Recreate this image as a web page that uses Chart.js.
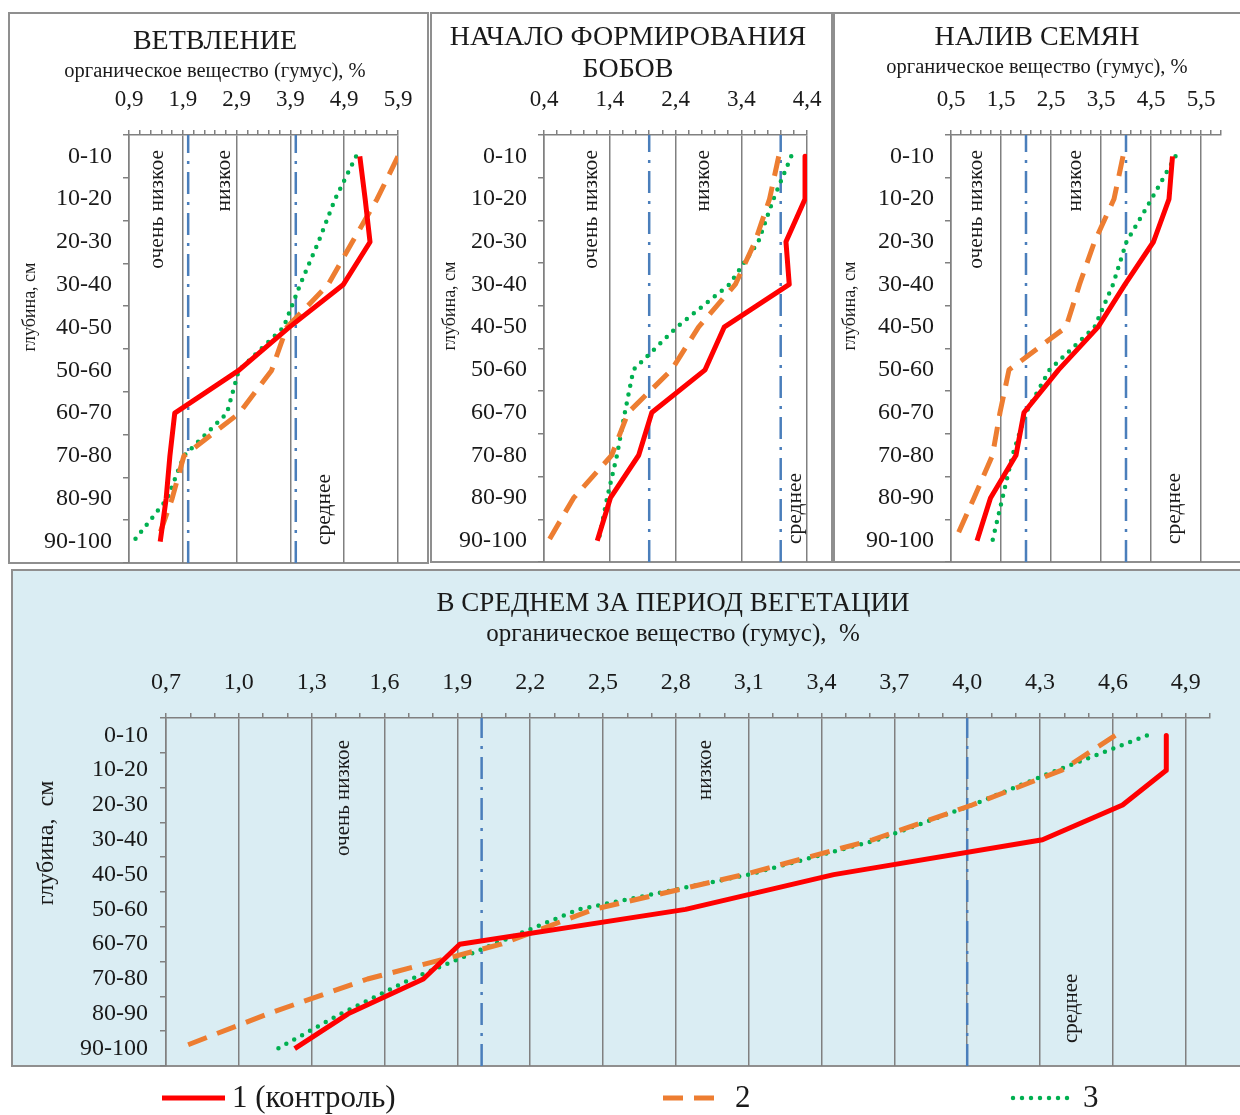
<!DOCTYPE html>
<html>
<head>
<meta charset="utf-8">
<script src="https://cdn.jsdelivr.net/npm/chart.js@4.4.1/dist/chart.umd.min.js"></script>
<style>
html,body{margin:0;padding:0;width:1240px;height:1115px;overflow:hidden;background:#fff;}
.panel{position:absolute;box-sizing:border-box;border:2px solid #8f8f8f;}
canvas{position:absolute;}
</style>
</head>
<body>
<div class="panel" style="left:8px;top:12px;width:421px;height:552px;"></div>
<div class="panel" style="left:430px;top:12px;width:403px;height:551px;"></div>
<div class="panel" style="left:833px;top:12px;width:420px;height:551px;"></div>
<div class="panel" style="left:11px;top:569px;width:1245px;height:498px;background:#daedf3;"></div>
<script>
// ---------- DATA ----------
const depths = ['0-10','10-20','20-30','30-40','40-50','50-60','60-70','70-80','80-90','90-100'];
const seriesNames = ['1 (контроль)', '2', '3'];
const zoneNames = ['очень низкое', 'низкое', 'среднее'];
const refLevels = [2.0, 4.0];

// ВЕТВЛЕНИЕ
const branch1 = [5.19, 5.29, 5.38, 4.88, 3.87, 2.94, 1.75, 1.66, 1.59, 1.48];
const branch2 = [5.90, 5.51, 5.05, 4.60, 3.83, 3.55, 2.95, 1.92, 1.70, 1.42];
const branch3 = [5.12, 4.73, 4.42, 4.08, 3.77, 2.94, 2.72, 1.92, 1.61, 0.98];
const branchTicks = [0.9, 1.9, 2.9, 3.9, 4.9, 5.9];

// НАЧАЛО ФОРМИРОВАНИЯ БОБОВ
const beans1 = [4.37, 4.37, 4.08, 4.13, 3.14, 2.85, 2.04, 1.84, 1.41, 1.21];
const beans2 = [3.97, 3.83, 3.61, 3.31, 2.75, 2.34, 1.68, 1.43, 0.85, 0.47];
const beans3 = [4.16, 3.89, 3.66, 3.22, 2.42, 1.76, 1.63, 1.51, 1.36, 1.23];
const beansTicks = [0.4, 1.4, 2.4, 3.4, 4.4];

// НАЛИВ СЕМЯН
const seeds1 = [4.93, 4.86, 4.55, 3.98, 3.44, 2.65, 1.96, 1.80, 1.29, 1.02];
const seeds2 = [3.94, 3.76, 3.37, 3.07, 2.80, 1.66, 1.48, 1.33, 0.96, 0.58];
const seeds3 = [4.99, 4.51, 4.01, 3.74, 3.37, 2.47, 2.00, 1.73, 1.53, 1.33];
const seedsTicks = [0.5, 1.5, 2.5, 3.5, 4.5, 5.5];

// В СРЕДНЕМ ЗА ПЕРИОД ВЕГЕТАЦИИ
const mean1 = [4.82, 4.82, 4.64, 4.31, 3.45, 2.84, 1.91, 1.76, 1.45, 1.23];
const mean2 = [4.61, 4.39, 4.02, 3.61, 3.08, 2.46, 2.08, 1.53, 1.12, 0.75];
const mean3 = [4.74, 4.37, 4.02, 3.63, 3.10, 2.40, 2.05, 1.71, 1.42, 1.16];
const meanTicks = [0.7, 1.0, 1.3, 1.6, 1.9, 2.2, 2.5, 2.8, 3.1, 3.4, 3.7, 4.0, 4.3, 4.6, 4.9];

// ---------- STYLE ----------
const FONT = "'Liberation Serif', 'Times New Roman', serif";
const TXT = '#1a1a1a';
const GRID = '#808080';
const seriesStyle = [
  {borderColor:'#ff0000', borderWidth:5, borderDash:[], borderCapStyle:'butt'},
  {borderColor:'#ed7d31', borderWidth:5, borderDash:[20,11], borderCapStyle:'butt'},
  {borderColor:'#00b050', borderWidth:4.5, borderDash:[0,9], borderCapStyle:'round'}
];
const refStyle = {borderColor:'#4a7ebb', borderWidth:2.5, borderDash:[22,8,3,8]};

const decorPlugin = {
  id: 'decor',
  beforeDatasetsDraw(chart, args, o) {
    const ctx = chart.ctx, a = chart.chartArea, x = chart.scales.x;
    ctx.save();
    ctx.fillStyle = TXT;
    ctx.font = o.zoneSize + 'px ' + FONT;
    (o.zones || []).forEach(z => {
      const px = x.getPixelForValue(z.v);
      const py = z.top ? a.top + z.off : a.bottom - z.off;
      ctx.save();
      ctx.translate(px, py);
      ctx.rotate(-Math.PI / 2);
      ctx.textAlign = z.top ? 'right' : 'left';
      ctx.textBaseline = 'middle';
      ctx.fillText(zoneNames[z.t], 0, 0);
      ctx.restore();
    });
    if (o.yTitle) {
      ctx.save();
      ctx.font = o.yTitle.size + 'px ' + FONT;
      ctx.translate(o.yTitle.x, o.yTitle.y);
      ctx.rotate(-Math.PI / 2);
      ctx.textAlign = 'center';
      ctx.textBaseline = 'middle';
      ctx.fillText(o.yTitle.text, 0, 0);
      ctx.restore();
    }
    ctx.restore();
  },
  afterDraw(chart, args, o) {
    if (!o.legend) return;
    const ctx = chart.ctx;
    ctx.save();
    o.legend.items.forEach((it, i) => {
      const st = seriesStyle[i];
      ctx.strokeStyle = st.borderColor;
      ctx.lineWidth = st.borderWidth;
      ctx.setLineDash(st.borderDash);
      ctx.lineCap = st.borderCapStyle;
      ctx.beginPath();
      ctx.moveTo(it.x1, o.legend.y);
      ctx.lineTo(it.x2, o.legend.y);
      ctx.stroke();
      ctx.setLineDash([]);
      ctx.fillStyle = TXT;
      ctx.font = o.legend.size + 'px ' + FONT;
      ctx.textAlign = 'left';
      ctx.textBaseline = 'middle';
      ctx.fillText(seriesNames[i], it.tx, o.legend.y + 1);
    });
    ctx.restore();
  }
};

function makeChart(c) {
  const canvas = document.createElement('canvas');
  canvas.width = c.w; canvas.height = c.h;
  canvas.style.left = c.left + 'px'; canvas.style.top = c.top + 'px';
  canvas.style.width = c.w + 'px'; canvas.style.height = c.h + 'px';
  document.body.appendChild(canvas);

  const rightSpace = c.rightSpace || 0;
  const tLH = c.titleLine;
  const tPadTop = c.titleY - tLH / 2;
  const tH = tPadTop + c.title.length * tLH;
  let used = tH, sPadTop = 0;
  const sLH = c.subSize * 1.2;
  if (c.subtitle) { sPadTop = c.subY - sLH / 2 - tH; used = tH + sPadTop + sLH; }
  const xAxisH = c.chartTop - used;
  const tickLen = 5;
  const tickLH = c.tickSize * 1.2;
  const tickPad = c.chartTop - tickLen - tickLH / 2 - c.tickY;
  const yAxisW = c.chartLeft - c.padLeft;
  const isMajor = v => c.majors.some(m => Math.abs(m - v) < 1e-6);
  const noPad = s => { s.paddingLeft = 0; s.paddingRight = 0; s.paddingTop = 0; s.paddingBottom = 0; };

  const datasets = c.series.map((arr, i) => Object.assign({
    label: seriesNames[i],
    data: arr.map((v, k) => ({x: v, y: depths[k]})),
    pointRadius: 0, tension: 0, fill: false, borderJoinStyle: 'round'
  }, seriesStyle[i]));
  refLevels.forEach(r => datasets.push(Object.assign({
    label: 'ref', yAxisID: 'y2',
    data: [{x: r, y: 0}, {x: r, y: 1}],
    pointRadius: 0, fill: false
  }, refStyle)));

  return new Chart(canvas, {
    type: 'line',
    data: {labels: depths, datasets},
    options: {
      responsive: false, animation: false, indexAxis: 'y',
      events: [],
      layout: {padding: {left: c.padLeft, right: c.w - c.chartRight - rightSpace, top: 0, bottom: c.h - c.chartBottom}},
      plugins: {
        legend: {display: false}, tooltip: {enabled: false},
        title: {display: true, text: c.title, color: TXT,
          font: {family: FONT, size: c.titleSize, weight: 'normal', lineHeight: tLH / c.titleSize},
          padding: {top: tPadTop, bottom: 0}},
        subtitle: {display: !!c.subtitle, text: c.subtitle || '', color: TXT,
          font: {family: FONT, size: c.subSize, weight: 'normal', lineHeight: 1.2},
          padding: {top: sPadTop, bottom: 0}},
        decor: {zones: c.zones, zoneSize: c.zoneSize, yTitle: c.yTitle, legend: c.legend}
      },
      scales: {
        x: {
          type: 'linear', position: 'top', min: c.xMin, max: c.xMax,
          afterFit: s => { s.height = xAxisH; noPad(s); },
          ticks: {stepSize: c.xStep, autoSkip: false, maxRotation: 0, minRotation: 0, padding: tickPad,
            color: TXT, font: {family: FONT, size: c.tickSize, lineHeight: 1.2},
            callback: v => isMajor(v) ? v.toFixed(1).replace('.', ',') : ''},
          grid: {color: ctx => (ctx.tick && isMajor(ctx.tick.value)) ? GRID : 'rgba(0,0,0,0)',
            tickColor: GRID, tickLength: tickLen, lineWidth: 1.5, drawTicks: true},
          border: {display: true, color: GRID, width: 1.5}
        },
        y: {
          type: 'category', labels: depths, offset: true,
          afterFit: s => { s.width = yAxisW; noPad(s); },
          ticks: {color: TXT, padding: c.yPad, font: {family: FONT, size: c.ySize, lineHeight: 1.2}},
          grid: {drawOnChartArea: false, drawTicks: true, tickLength: 6, color: GRID, tickColor: GRID, lineWidth: 1.5, offset: true},
          border: {display: true, color: GRID, width: 1.5}
        },
        y2: {type: 'linear', display: rightSpace > 0, position: 'right', min: 0, max: 1,
          afterFit: s => { s.width = rightSpace; noPad(s); },
          ticks: {display: false}, grid: {display: false}, border: {display: false}}
      }
    },
    plugins: [decorPlugin]
  });
}

makeChart({
  left: 9, top: 13, w: 419, h: 550,
  chartLeft: 120, chartRight: 389, chartTop: 122, chartBottom: 550, padLeft: 23,
  title: ['ВЕТВЛЕНИЕ'], titleSize: 28, titleLine: 33, titleY: 29,
  subtitle: 'органическое вещество (гумус), %', subSize: 20.5, subY: 59,
  tickSize: 23, tickY: 87, ySize: 24, yPad: 11,
  xMin: 0.9, xMax: 5.9, xStep: 0.2, majors: branchTicks,
  series: [branch1, branch2, branch3],
  zoneSize: 21.5,
  zones: [{t:0, v:1.42, top:true, off:15}, {t:1, v:2.67, top:true, off:15}, {t:2, v:4.54, top:false, off:18}],
  yTitle: {text: 'глубина, см', x: 21, y: 294, size: 18}
});

makeChart({
  left: 431, top: 13, w: 400, h: 549,
  chartLeft: 113, chartRight: 376, chartTop: 122, chartBottom: 549, padLeft: 18,
  title: ['НАЧАЛО ФОРМИРОВАНИЯ', 'БОБОВ'], titleSize: 28, titleLine: 32, titleY: 25,
  subtitle: null, subSize: 20, subY: 0,
  tickSize: 23, tickY: 87, ySize: 24, yPad: 11,
  xMin: 0.4, xMax: 4.4, xStep: 0.2, majors: beansTicks,
  series: [beans1, beans2, beans3],
  zoneSize: 21.5,
  zones: [{t:0, v:1.12, top:true, off:15}, {t:1, v:2.82, top:true, off:15}, {t:2, v:4.22, top:false, off:18}],
  yTitle: {text: 'глубина, см', x: 19, y: 293, size: 18}
});

makeChart({
  left: 834, top: 13, w: 406, h: 549,
  chartLeft: 117, chartRight: 387, chartTop: 122, chartBottom: 549, padLeft: 19,
  title: ['НАЛИВ СЕМЯН'], titleSize: 28, titleLine: 32, titleY: 25,
  subtitle: 'органическое вещество (гумус), %', subSize: 20.5, subY: 55,
  tickSize: 23, tickY: 87, ySize: 24, yPad: 11,
  xMin: 0.5, xMax: 5.9, xStep: 0.2, majors: seedsTicks,
  series: [seeds1, seeds2, seeds3],
  zoneSize: 21.5,
  zones: [{t:0, v:1.0, top:true, off:15}, {t:1, v:2.98, top:true, off:15}, {t:2, v:4.96, top:false, off:18}],
  yTitle: {text: 'глубина, см', x: 16, y: 293, size: 18}
});

makeChart({
  left: 12, top: 571, w: 1322, h: 544,
  chartLeft: 154, chartRight: 1198, chartTop: 147, chartBottom: 495, padLeft: 0, rightSpace: 124,
  title: ['В СРЕДНЕМ ЗА ПЕРИОД ВЕГЕТАЦИИ'], titleSize: 27, titleLine: 32, titleY: 33,
  subtitle: 'органическое вещество (гумус),  %', subSize: 25, subY: 63,
  tickSize: 24, tickY: 112, ySize: 24, yPad: 12,
  xMin: 0.7, xMax: 5.0, xStep: 0.1, majors: meanTicks,
  series: [mean1, mean2, mean3],
  zoneSize: 21,
  zones: [{t:0, v:1.43, top:true, off:22}, {t:1, v:2.92, top:true, off:22}, {t:2, v:4.43, top:false, off:23}],
  yTitle: {text: 'глубина,  см', x: 35, y: 272, size: 24},
  legend: {y: 527, size: 31, items: [{x1:150, x2:213, tx:220}, {x1:651, x2:712, tx:723}, {x1:1001, x2:1061, tx:1071}]}
});
</script>
</body>
</html>
